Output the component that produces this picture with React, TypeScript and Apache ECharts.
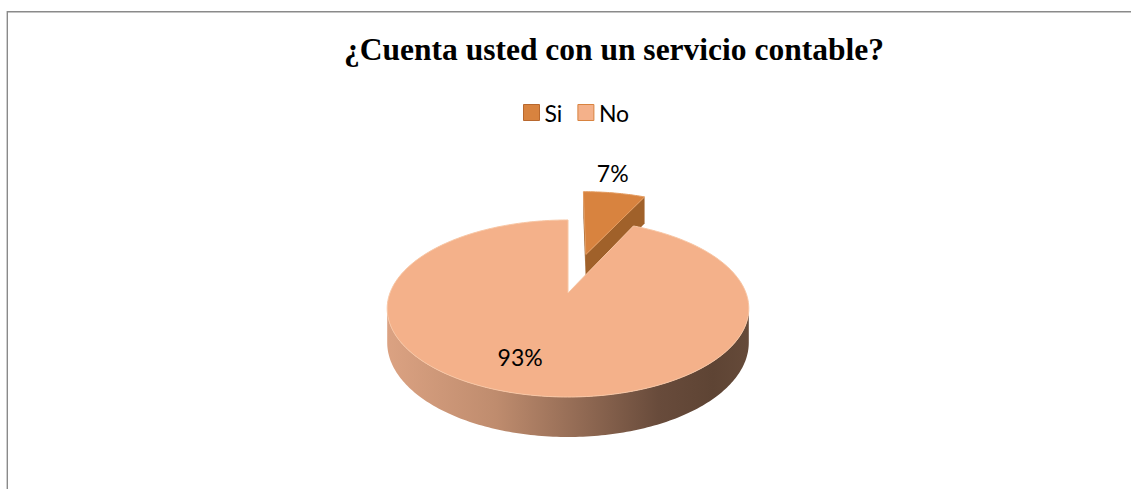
import React, { useEffect, useRef } from "react";
import * as echarts from "echarts";

// ---- data ----
const categories: string[] = ["Si", "No"];
const values: number[] = [7, 93];
const titleText = "¿Cuenta usted con un servicio contable?";

// ---- styles ----
const TOP_COLORS = ["#D8833F", "#F4B18A"];
const FACE_COLORS = ["#A0612A", "#C98A63"];
const LEGEND_BORDER = ["#B8682E", "#D8833F"];
const EXPLODE = [0.5, 0];
const LABEL_RADIUS = [1.4, 0.68];
const LABEL_DX = [-11, -18];

// projection parameters (perspective 3D pie)
const CX = 568;
const CY = 293;
const RX = 178;
const RY = 85.8;
const K = 0.175;
const DEPTH = 33;

function proj(X: number, Z: number, drop: number): number[] {
  const w = 1 + K * Z;
  return [CX + (RX * X) / w, CY - (RY * Z) / w + drop / w];
}

const total = values.reduce((a, b) => a + b, 0);

function buildSlice(i: number) {
  const before = values.slice(0, i).reduce((a, b) => a + b, 0);
  const start = (before / total) * 360;
  const end = start + (values[i] / total) * 360;
  const midRad = (((start + end) / 2) * Math.PI) / 180;
  const ox = EXPLODE[i] * Math.sin(midRad);
  const oz = EXPLODE[i] * Math.cos(midRad);
  const P = (deg: number, r: number, drop: number) => {
    const t = (deg * Math.PI) / 180;
    return proj(ox + r * Math.sin(t), oz + r * Math.cos(t), drop);
  };
  const arc = (a: number, b: number, drop: number) => {
    const pts: number[][] = [];
    const n = Math.max(2, Math.ceil(Math.abs(b - a)));
    for (let k = 0; k <= n; k++) pts.push(P(a + ((b - a) * k) / n, 1, drop));
    return pts;
  };
  const children: any[] = [];
  // radial faces
  [start, end].forEach((a) => {
    children.push({
      type: "polygon",
      shape: { points: [P(a, 0, 0), P(a, 1, 0), P(a, 1, DEPTH), P(a, 0, DEPTH)] },
      style: { fill: FACE_COLORS[i] },
    });
  });
  // outer rim (front-facing part)
  const visA = (Math.acos(-K) * 180) / Math.PI;
  const visB = 360 - visA;
  const ra = Math.max(start, visA);
  const rb = Math.min(end, visB);
  if (rb > ra) {
    const top = arc(ra, rb, 0);
    const bot = arc(ra, rb, DEPTH).reverse();
    const x0 = CX - RX * 1.016;
    const x1 = CX + RX * 1.016;
    children.push({
      type: "polygon",
      shape: { points: top.concat(bot) },
      style: {
        fill: {
          type: "linear",
          x: x0,
          y: 0,
          x2: x1,
          y2: 0,
          global: true,
          colorStops: [
            { offset: 0, color: "#DBA282" },
            { offset: 0.3, color: "#BF8C6E" },
            { offset: 0.55, color: "#8F6852" },
            { offset: 0.75, color: "#684B3B" },
            { offset: 0.9, color: "#5E4434" },
            { offset: 1, color: "#654A39" },
          ],
        },
      },
    });
  }
  // top face
  children.push({
    type: "polygon",
    shape: { points: [P(0, 0, 0)].concat(arc(start, end, 0)) },
    style: {
      fill: TOP_COLORS[i],
      stroke: i === 0 ? "#E39A5E" : "#F8C6A4",
      lineWidth: 1,
    },
  });
  // label
  const lp = P((start + end) / 2, LABEL_RADIUS[i], 0);
  const pct = Math.round((values[i] / total) * 100) + "%";
  children.push({
    type: "text",
    z2: 100,
    x: lp[0] + LABEL_DX[i],
    y: lp[1],
    style: {
      text: pct,
      font: '23px "Lato"',
      fill: "#000",
      align: "center",
      verticalAlign: "middle",
      textAlign: "center",
      textVerticalAlign: "middle",
    },
  });
  return { type: "group", children };
}

export default function App() {
  const ref = useRef<HTMLDivElement>(null);
  useEffect(() => {
    if (!ref.current) return;
    const chart = echarts.init(ref.current, undefined, { renderer: "svg" });
    chart.setOption({
      animation: false,
      backgroundColor: "#ffffff",
      graphic: [
        {
          type: "rect",
          shape: { x: 7.3, y: 11.7, width: 1300, height: 700 },
          style: { fill: "none", stroke: "#8a8a8a", lineWidth: 1.4 },
          silent: true,
        },
        {
          type: "text",
          x: 614,
          y: 49,
          style: {
            text: titleText,
            font: 'bold 31.5px "Liberation Serif"',
            fill: "#000",
            align: "center",
            verticalAlign: "middle",
            textAlign: "center",
            textVerticalAlign: "middle",
          },
        },
      ],
      legend: {
        left: 523,
        top: 101,
        padding: 0,
        itemWidth: 16,
        itemHeight: 16,
        itemGap: 15,
        icon: "rect",
        selectedMode: false,
        textStyle: { fontFamily: "Lato", fontSize: 23, color: "#000" },
        data: categories.map((name, i) => ({
          name,
          itemStyle: { color: TOP_COLORS[i], borderColor: LEGEND_BORDER[i], borderWidth: 1 },
        })),
      },
      series: categories.map((name, i) => ({
        type: "custom",
        name,
        coordinateSystem: "none",
        silent: true,
        itemStyle: { color: TOP_COLORS[i] },
        data: [values[i]],
        renderItem: () => buildSlice(i),
      })),
    });
    return () => chart.dispose();
  }, []);
  return (
    <div
      ref={ref}
      style={{ position: "fixed", left: 0, top: 0, width: 1131, height: 489 }}
    />
  );
}
